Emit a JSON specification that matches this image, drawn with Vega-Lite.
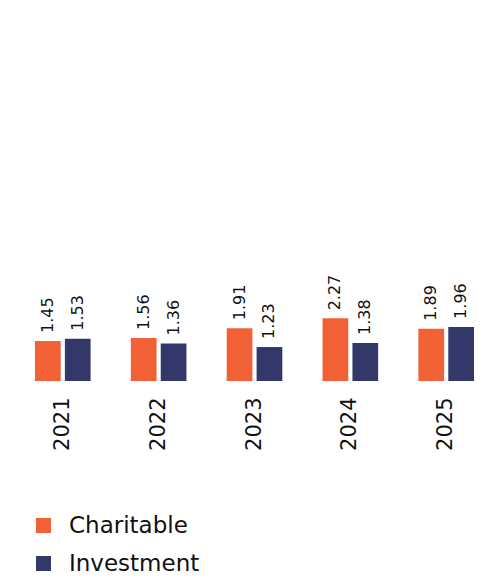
{
  "$schema": "https://vega.github.io/schema/vega-lite/v6.json",
  "width": 439,
  "height": 381,
  "autosize": {"type": "none"},
  "padding": {"left": 35, "top": 0, "right": 11, "bottom": 198},
  "config": {"view": {"stroke": null}, "font": "DejaVu Sans"},
  "data": {
    "values": [
      {"year": "2021", "series": "Charitable", "value": 1.45},
      {"year": "2021", "series": "Investment", "value": 1.53},
      {"year": "2022", "series": "Charitable", "value": 1.56},
      {"year": "2022", "series": "Investment", "value": 1.36},
      {"year": "2023", "series": "Charitable", "value": 1.91},
      {"year": "2023", "series": "Investment", "value": 1.23},
      {"year": "2024", "series": "Charitable", "value": 2.27},
      {"year": "2024", "series": "Investment", "value": 1.38},
      {"year": "2025", "series": "Charitable", "value": 1.89},
      {"year": "2025", "series": "Investment", "value": 1.96}
    ]
  },
  "encoding": {
    "x": {
      "field": "year",
      "type": "nominal",
      "scale": {"paddingInner": 0.42, "paddingOuter": 0},
      "axis": {"labelAngle": -90, "labelFontSize": 21, "domain": false, "ticks": false, "labelPadding": 16, "title": null, "labelColor": "#111111"}
    },
    "xOffset": {"field": "series", "type": "nominal", "scale": {"paddingInner": 0.14, "paddingOuter": 0}},
    "y": {"field": "value", "type": "quantitative", "scale": {"domain": [0, 13.8]}, "axis": null}
  },
  "layer": [
    {
      "mark": {"type": "bar"},
      "encoding": {
        "color": {
          "field": "series",
          "type": "nominal",
          "scale": {"domain": ["Charitable", "Investment"], "range": ["#F26136", "#33386A"]},
          "legend": {
            "orient": "none",
            "legendX": -3,
            "legendY": 514,
            "title": null,
            "symbolType": "square",
            "symbolSize": 225,
            "symbolStrokeWidth": 0,
            "labelFontSize": 23,
            "labelOffset": 14,
            "rowPadding": 14,
            "labelColor": "#111111"
          }
        }
      }
    },
    {
      "mark": {"type": "text", "angle": 270, "align": "left", "baseline": "middle", "dx": 8, "fontSize": 16, "color": "#111111"},
      "encoding": {"text": {"field": "value", "type": "quantitative", "format": ".2f"}}
    }
  ]
}
